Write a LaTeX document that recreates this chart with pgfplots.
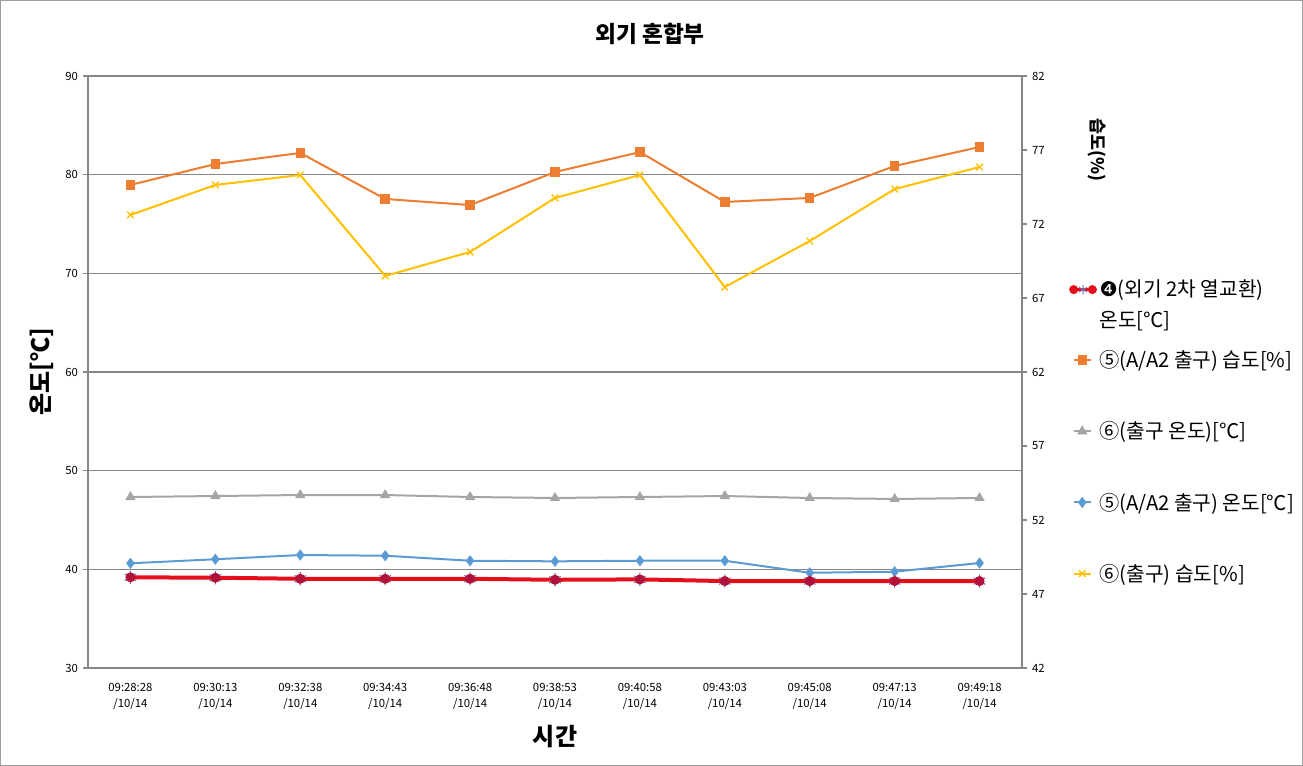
\documentclass[border=0pt]{standalone}
\usepackage{fontspec}
\usepackage{pgfplots}
\usepackage{pgfplotstable}
\pgfplotsset{compat=1.18}
\setmainfont{Noto Sans CJK KR}
\newfontfamily\dejavu{DejaVu Sans}

\definecolor{serRed}{HTML}{E3101B}
\definecolor{serDark}{HTML}{B0123A}
\definecolor{serStar}{HTML}{7A6AA8}
\definecolor{serOrange}{HTML}{ED7D31}
\definecolor{serGray}{HTML}{A5A5A5}
\definecolor{serBlue}{HTML}{5B9BD5}
\definecolor{serYellow}{HTML}{FFC000}
\definecolor{axisGray}{HTML}{868686}

% temperatures, left axis
\pgfplotstableread{
idx red   gray  blue
0   39.19 47.33 40.61
1   39.15 47.43 41.02
2   39.04 47.53 41.45
3   39.04 47.53 41.38
4   39.04 47.33 40.87
5   38.94 47.23 40.81
6   38.98 47.33 40.87
7   38.81 47.43 40.87
8   38.81 47.23 39.65
9   38.81 47.13 39.76
10  38.81 47.23 40.64
}\tempdata

% humidity, right axis
\pgfplotstableread{
idx orange yellow
0   74.64  72.61
1   76.05  74.64
2   76.80  75.31
3   73.69  68.49
4   73.28  70.11
5   75.51  73.76
6   76.86  75.31
7   73.49  67.74
8   73.76  70.85
9   75.92  74.36
10  77.20  75.85
}\humdata

\begin{document}
\begin{tikzpicture}[x=1pt,y=1pt]
\draw[axisGray!80, line width=0.8pt] (0.4,0.4) rectangle (976.85,574.1);

\pgfplotsset{
  common/.style={
    scale only axis, width=700.5pt, height=444pt,
    at={(66pt,73.5pt)}, anchor=south west,
    xmin=-0.5, xmax=10.5,
    axis line style={axisGray, line width=0.8pt},
    tick style={axisGray, line width=0.8pt},
    tick align=outside, major tick length=4pt,
    tick label style={font=\fontsize{8.5}{10}\selectfont},
    /pgf/number format/assume math mode=true,
    every axis plot/.append style={line width=1.5pt},
  },
}

\begin{axis}[common,
  ymin=30, ymax=90, ytick={30,40,...,90},
  axis x line*=bottom, axis y line*=left,
  xtick={0,...,10},
  xticklabels={{09:28:28\\/10/14},{09:30:13\\/10/14},{09:32:38\\/10/14},
    {09:34:43\\/10/14},{09:36:48\\/10/14},{09:38:53\\/10/14},{09:40:58\\/10/14},
    {09:43:03\\/10/14},{09:45:08\\/10/14},{09:47:13\\/10/14},{09:49:18\\/10/14}},
  xticklabel style={align=center, font=\fontsize{8.5}{12}\selectfont, yshift=-4pt},
  xtick style={draw=none},
  ymajorgrids, grid style={axisGray, line width=0.8pt},
  title={외기 혼합부},
  every axis title shift=0pt,
  title style={at={(axis description cs:0.6017,1.071)}, anchor=center,
    font=\fontsize{17}{20}\selectfont\bfseries},
  xlabel={시간},
  xlabel style={at={(axis description cs:0.5,-0.1166)}, anchor=center,
    font=\fontsize{18}{21}\selectfont\bfseries},
  ylabel={온도[℃]},
  ylabel style={at={(axis description cs:-0.0493,0.5)}, anchor=center,
    font=\fontsize{18}{21}\selectfont\bfseries},
]
\addplot[serGray, mark=triangle*, mark size=3pt] table[x=idx, y=gray] {\tempdata};
\addplot[serBlue, mark=diamond*, mark size=3pt] table[x=idx, y=blue] {\tempdata};
\addplot[serStar, only marks, mark=asterisk, mark size=5pt, mark options={line width=0.8pt}] table[x=idx, y=red] {\tempdata};
\addplot[serRed, line width=3pt, mark=*, mark size=3.5pt, mark options={fill=serDark, draw=serDark, line width=0.5pt}] table[x=idx, y=red] {\tempdata};
\end{axis}

\begin{axis}[common,
  ymin=42, ymax=82, ytick={42,47,...,82},
  axis x line=none, axis y line*=right,
  ylabel={습도(\%)},
  ylabel style={at={(axis description cs:1.0803,0.875)}, anchor=center, rotate=180,
    font=\fontsize{13}{15}\selectfont\bfseries},
  legend style={at={(axis description cs:1.046,0.652)}, anchor=north west,
    draw=none, fill=none, font=\fontsize{15.2}{18}\selectfont,
    row sep=35pt},
  legend cell align=left,
  legend image code/.code={
    \draw[#1] (0pt,0pt) -- (12.75pt,0pt);
    \draw[#1, only marks] plot coordinates {(6.4pt,0pt)};
  },
]
\addlegendimage{legend image code/.code={
    \draw[serRed, line width=2.5pt] (0pt,6pt) -- (14pt,6pt);
    \fill[serRed] (0pt,6pt) circle (2.6pt);
    \fill[serRed] (14pt,6pt) circle (2.6pt);
    \draw[serStar, line width=0.7pt] plot[mark=asterisk, mark size=3.5pt] coordinates {(7pt,6pt)};
  }}
\addlegendentry{\smash{\begin{tabular}[t]{@{}l@{}}{\dejavu ❹}(외기 2차 열교환)\\[5pt]온도[℃]\end{tabular}}}
\addplot[serOrange, mark=square*, mark size=2.8pt] table[x=idx, y=orange] {\humdata};
\addlegendentry{⑤(A/A2 출구) 습도[\%]}
\addlegendimage{serGray, line width=1.5pt, mark=triangle*, mark size=3pt}
\addlegendentry{⑥(출구 온도)[℃]}
\addlegendimage{serBlue, line width=1.5pt, mark=diamond*, mark size=3pt}
\addlegendentry{⑤(A/A2 출구) 온도[℃]}
\addplot[serYellow, mark=x, mark size=3.5pt, mark options={line width=1pt}] table[x=idx, y=yellow] {\humdata};
\addlegendentry{⑥(출구) 습도[\%]}
\end{axis}
\end{tikzpicture}
\end{document}
